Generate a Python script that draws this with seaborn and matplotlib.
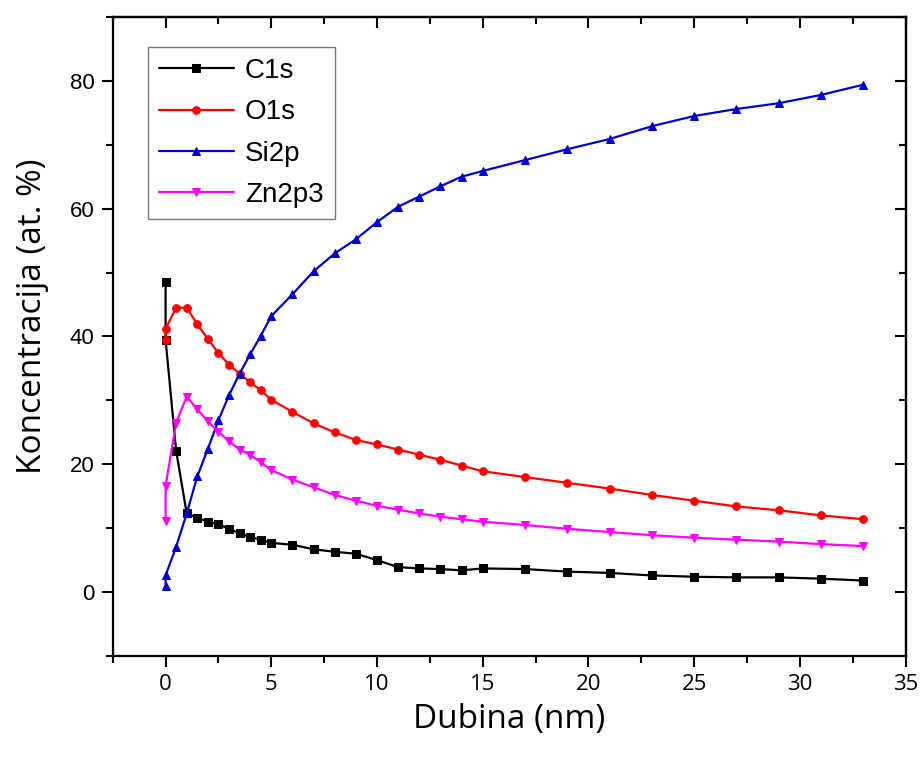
import matplotlib
matplotlib.use("Agg")
import matplotlib.pyplot as plt
from matplotlib.ticker import MultipleLocator
import seaborn as sns

# depth profile values (two points at 0 nm)
depth = [0, 0, 0.5, 1, 1.5, 2, 2.5, 3, 3.5, 4, 4.5, 5, 6, 7, 8, 9, 10,
         11, 12, 13, 14, 15, 17, 19, 21, 23, 25, 27, 29, 31, 33]
c1s = [48.6, 39.5, 22.1, 12.3, 11.6, 11.0, 10.6, 9.9, 9.2, 8.6, 8.2, 7.7, 7.4, 6.7, 6.3, 6.0, 5.0,
       3.9, 3.7, 3.6, 3.4, 3.7, 3.6, 3.2, 3.0, 2.6, 2.4, 2.3, 2.3, 2.1, 1.8]
o1s = [39.5, 41.2, 44.5, 44.5, 41.9, 39.6, 37.4, 35.6, 34.2, 32.8, 31.6, 30.1, 28.2, 26.4, 25.0, 23.8, 23.1,
       22.3, 21.5, 20.7, 19.8, 18.9, 18.0, 17.1, 16.2, 15.2, 14.3, 13.4, 12.8, 12.0, 11.4]
si2p = [0.9, 2.6, 7.1, 12.3, 18.1, 22.4, 26.9, 30.8, 34.2, 37.2, 40.1, 43.2, 46.6, 50.2, 53.0, 55.2, 57.9,
        60.3, 61.9, 63.5, 65.0, 65.9, 67.6, 69.3, 70.9, 72.9, 74.5, 75.6, 76.5, 77.8, 79.4]
zn2p3 = [11.2, 16.6, 26.5, 30.6, 28.6, 26.7, 25.1, 23.6, 22.3, 21.5, 20.3, 19.1, 17.6, 16.4, 15.2, 14.3, 13.5,
         12.9, 12.3, 11.8, 11.4, 11.0, 10.5, 9.9, 9.4, 8.9, 8.5, 8.2, 7.9, 7.5, 7.2]

series = [("C1s", c1s, "black", "s"),
          ("O1s", o1s, "#ff0000", "o"),
          ("Si2p", si2p, "#0000cc", "^"),
          ("Zn2p3", zn2p3, "#ff00ff", "v")]

sns.set_style("ticks")
plt.rcParams["font.family"] = ["Liberation Sans", "DejaVu Sans"]
plt.rcParams["axes.linewidth"] = 1.6
plt.rcParams["text.color"] = "black"
plt.rcParams["axes.labelcolor"] = "black"
plt.rcParams["xtick.color"] = "black"
plt.rcParams["ytick.color"] = "black"
plt.rcParams["axes.edgecolor"] = "black"

fig = plt.figure(figsize=(9.24, 7.58), dpi=100)
ax = fig.add_axes([0.122, 0.1346, 0.858, 0.843])

for name, vals, col, mk in series:
    sns.lineplot(x=depth, y=vals, ax=ax, label=name, color=col, marker=mk,
                 markersize=5.5, markeredgecolor=col, linewidth=1.6,
                 estimator=None, sort=False)

ax.set_xlim(-2.5, 35)
ax.set_ylim(-10, 90)
ax.xaxis.set_major_locator(MultipleLocator(5))
ax.xaxis.set_minor_locator(MultipleLocator(2.5))
ax.yaxis.set_major_locator(MultipleLocator(20))
ax.yaxis.set_minor_locator(MultipleLocator(10))
ax.tick_params(which="major", direction="out", length=8, width=1.5, labelsize=16, pad=5)
ax.tick_params(which="minor", direction="out", length=5, width=1.5)
for lab in ax.get_xticklabels():
    lab.set_family("Open Sans")

# inward ticks on top and right, like the original
top = ax.secondary_xaxis("top")
top.xaxis.set_major_locator(MultipleLocator(5))
top.xaxis.set_minor_locator(MultipleLocator(2.5))
right = ax.secondary_yaxis("right")
right.yaxis.set_major_locator(MultipleLocator(20))
right.yaxis.set_minor_locator(MultipleLocator(10))
for sec in (top, right):
    sec.tick_params(which="major", direction="in", length=8, width=1.5,
                    labeltop=False, labelright=False)
    sec.tick_params(which="minor", direction="in", length=5, width=1.5)
top.spines["top"].set_linewidth(1.6)
right.spines["right"].set_linewidth(1.6)

ax.set_xlabel("Dubina (nm)", family="Open Sans", fontsize=24, labelpad=6)
ax.set_ylabel("Koncentracija (at. %)", family="Open Sans", fontsize=24)
ax.yaxis.set_label_coords(-0.08, 0.532)

leg = ax.legend(loc="upper left", bbox_to_anchor=(0.044, 0.953), borderaxespad=0,
                fancybox=False, edgecolor="#777777", framealpha=1, fontsize=20,
                handlelength=2.7, handletextpad=0.4, labelspacing=0.55, borderpad=0.4)
leg.get_frame().set_linewidth(1.0)

fig.savefig("out.png", dpi=100)
